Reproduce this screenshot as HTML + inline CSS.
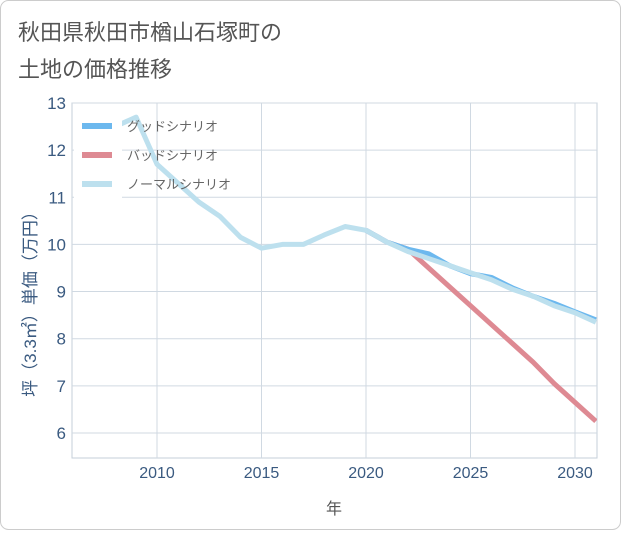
<!DOCTYPE html>
<html><head><meta charset="utf-8">
<style>
body{margin:0;background:#fff;}
#wrap{position:relative;width:621px;height:530px;font-family:"Liberation Sans","Noto Sans CJK JP",sans-serif;}
</style></head>
<body>
<div id="wrap">
<svg id="chart" width="621" height="530" xmlns="http://www.w3.org/2000/svg">
<rect x="0.5" y="0.5" width="620" height="529" rx="8" fill="#fff" stroke="#ccc"/>
<text x="18" y="40" font-size="22" fill="#555">秋田県秋田市楢山石塚町の</text>
<text x="18" y="77" font-size="22" fill="#555">土地の価格推移</text>
<g id="grid"></g>
<g id="axes"></g>
<g id="series"></g>
<g id="legend"></g>
<text x="334" y="514" font-size="16" fill="#555" text-anchor="middle">年</text>
<text transform="translate(36,300) rotate(-90)" font-size="17" fill="#3a5a80" text-anchor="middle">坪（3.3㎡）単価（万円）</text>
</svg>
</div>
<script>
const years=[2008,2009,2010,2011,2012,2013,2014,2015,2016,2017,2018,2019,2020,2021,2022,2023,2024,2025,2026,2027,2028,2029,2030,2031];
const normal=[12.5,12.7,11.7,11.3,10.9,10.6,10.15,9.92,10.0,10.0,10.2,10.38,10.3,10.05,9.85,9.7,9.55,9.4,9.25,9.05,8.9,8.7,8.55,8.35];
const goodYears=[2020,2021,2022,2023,2024,2025,2026,2027,2028,2029,2030,2031];
const good=[10.3,10.05,9.9,9.8,9.55,9.38,9.3,9.08,8.9,8.75,8.57,8.4];
const badYears=[2020,2021,2022,2023,2024,2025,2026,2027,2028,2029,2030,2031];
const bad=[10.3,10.05,9.9,9.5,9.1,8.7,8.3,7.9,7.5,7.05,6.65,6.25];
const yTicks=[6,7,8,9,10,11,12,13];
const xTicks=[2010,2015,2020,2025,2030];
const X0=72,X1=597,Y0=103,Y1=458;
const xs=y=>157+(y-2010)*20.9;
const ys=v=>103+(13-v)*47.14;
const NS="http://www.w3.org/2000/svg";
function mk(tag,parent,attrs){const e=document.createElementNS(NS,tag);for(const k in attrs)e.setAttribute(k,attrs[k]);parent.appendChild(e);return e;}
const grid=document.getElementById('grid'),axes=document.getElementById('axes'),ser=document.getElementById('series'),leg=document.getElementById('legend');
const frame=mk('rect',grid,{x:X0,y:Y0,width:X1-X0,height:Y1-Y0,fill:'none',stroke:'#c5cfd9'});


yTicks.forEach(v=>{
 const l=mk('line',grid,{x1:X0,x2:X1,y1:ys(v),y2:ys(v),stroke:'#d0d9e2'});
 
 
 const t=mk('text',axes,{x:66,y:ys(v)+6,'font-size':17,fill:'#3a5a80','text-anchor':'end'});
 t.textContent=v;
 
 
});
xTicks.forEach(v=>{
 const l=mk('line',grid,{x1:xs(v),x2:xs(v),y1:Y0,y2:Y1,stroke:'#d0d9e2'});
 
 
 const t=mk('text',axes,{x:xs(v),y:478,'font-size':16,fill:'#3a5a80','text-anchor':'middle'});
 t.textContent=v;
 
 
});
const clip=mk('clipPath',ser,{id:'pc'});mk('rect',clip,{x:X0,y:Y0,width:X1-X0,height:Y1-Y0});
function line(xv,yv,color,name){
 const p=mk('polyline',ser,{points:xv.map((x,i)=>xs(x)+','+ys(yv[i])).join(' '),fill:'none',stroke:color,'stroke-width':5,'stroke-linejoin':'round','clip-path':'url(#pc)'});
 
 
}
line(badYears,bad,'#de8a93','bad-scenario-line');
line(goodYears,good,'#6cb8ee','good-scenario-line');
line(years,normal,'#bde0ee','normal-scenario-line');
const lb=mk('rect',leg,{x:74,y:106,width:48,height:92,fill:'#fff'});


[['グッドシナリオ','#6cb8ee'],['バッドシナリオ','#de8a93'],['ノーマルシナリオ','#bde0ee']].forEach((d,i)=>{
 const y=126+i*29;
 const g=mk('g',leg,{});
 
 
 mk('rect',g,{x:82,y:y-3,width:30,height:6,fill:d[1]});
 const t=mk('text',g,{x:127,y:y+5,'font-size':13,fill:'#666'});
 t.textContent=d[0];
});
</script>
</body></html>
